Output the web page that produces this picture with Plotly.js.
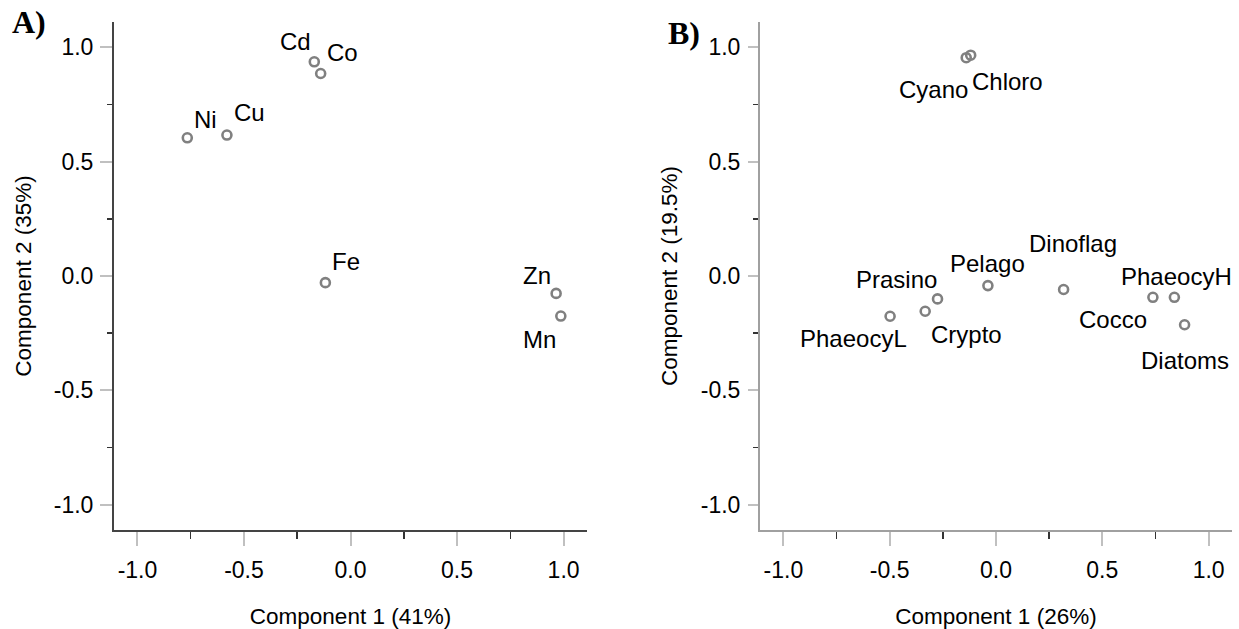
<!DOCTYPE html>
<html>
<head>
<meta charset="utf-8">
<script src="https://cdn.plot.ly/plotly-3.0.1.min.js"></script>
<style>html,body{margin:0;padding:0;background:#fff;}#chart{width:1239px;height:629px;}</style>
</head>
<body>
<div id="chart"></div>
<script>
// ---- data ----
const metalNames = ['Ni', 'Cu', 'Cd', 'Co', 'Fe', 'Zn', 'Mn'];
const metalComp1 = [-0.766, -0.580, -0.170, -0.140, -0.118, 0.965, 0.987];
const metalComp2 = [0.604, 0.616, 0.936, 0.885, -0.029, -0.076, -0.175];

const phytoNames = ['Cyano', 'Chloro', 'Prasino', 'PhaeocyL', 'Crypto', 'Pelago', 'Dinoflag', 'Cocco', 'PhaeocyH', 'Diatoms'];
const phytoComp1 = [-0.140, -0.119, -0.275, -0.498, -0.333, -0.038, 0.318, 0.738, 0.839, 0.887];
const phytoComp2 = [0.954, 0.965, -0.100, -0.176, -0.154, -0.042, -0.059, -0.093, -0.093, -0.213];

const tickValues = [-1.0, -0.5, 0.0, 0.5, 1.0];
const tickLabels = ['-1.0', '-0.5', '0.0', '0.5', '1.0'];
const minorTickValues = [-0.75, -0.25, 0.25, 0.75];

const titleA = {x: 'Component 1 (41%)', y: 'Component 2 (35%)'};
const titleB = {x: 'Component 1 (26%)', y: 'Component 2 (19.5%)'};

// ---- label placement (pixel offsets: right, down) ----
const metalLabelOffsets = [[18, -18], [23, -23], [-19, -20], [22, -21], [21, -21], [-19, -18], [-21, 23]];
const phytoLabelOffsets = [[-33, 32], [37, 26], [-41, -19], [-37, 22], [41, 23], [0, -22], [9, -46], [-40, 22], [2, -21], [0, 36]];

const FONT = 'Liberation Sans, Arial, sans-serif';
const markerStyle = {symbol: 'circle-open', size: 9, color: '#808080', line: {width: 2.6, color: '#808080'}};

const traces = [
  {type: 'scatter', mode: 'markers', x: metalComp1, y: metalComp2, text: metalNames,
   xaxis: 'x', yaxis: 'y', marker: markerStyle, hoverinfo: 'text', showlegend: false},
  {type: 'scatter', mode: 'markers', x: phytoComp1, y: phytoComp2, text: phytoNames,
   xaxis: 'x2', yaxis: 'y2', marker: markerStyle, hoverinfo: 'text', showlegend: false}
];

function minorTicks(len) {
  return {tickmode: 'array', tickvals: minorTickValues, ticks: 'outside', ticklen: len, tickcolor: '#333', tickwidth: 1.5, showgrid: false};
}

function axis(opts) {
  return Object.assign({
    range: [-1.11, 1.11], autorange: false, showgrid: false, zeroline: false,
    showline: true, mirror: false, linewidth: 2,
    tickmode: 'array', tickvals: tickValues, ticktext: tickLabels,
    ticks: 'outside', tickcolor: '#c0c0c0', tickwidth: 2,
    tickfont: {family: FONT, size: 23, color: '#000'},
    fixedrange: true
  }, opts);
}

const labelFont = {family: FONT, size: 24, color: '#000'};
const annotations = [];
metalNames.forEach((n, i) => annotations.push({
  xref: 'x', yref: 'y', x: metalComp1[i], y: metalComp2[i], text: n, showarrow: false,
  xanchor: 'center', yanchor: 'middle', xshift: metalLabelOffsets[i][0], yshift: -metalLabelOffsets[i][1],
  font: labelFont
}));
phytoNames.forEach((n, i) => annotations.push({
  xref: 'x2', yref: 'y2', x: phytoComp1[i], y: phytoComp2[i], text: n, showarrow: false,
  xanchor: 'center', yanchor: 'middle', xshift: phytoLabelOffsets[i][0], yshift: -phytoLabelOffsets[i][1],
  font: labelFont
}));
const panelFont = {family: 'Liberation Serif, Times New Roman, serif', size: 32, color: '#000'};
annotations.push({xref: 'paper', yref: 'paper', x: -0.093, y: 1.0, xanchor: 'left', yanchor: 'middle',
  text: '<b>A)</b>', showarrow: false, font: panelFont});
annotations.push({xref: 'paper', yref: 'paper', x: 0.4935, y: 0.978, xanchor: 'left', yanchor: 'middle',
  text: '<b>B)</b>', showarrow: false, font: panelFont});

const titleFont = {family: FONT, size: 22.5, color: '#000'};

const layout = {
  width: 1239, height: 629,
  margin: {l: 114, r: 7, t: 22, b: 99, autoexpand: false},
  paper_bgcolor: '#fff', plot_bgcolor: '#fff',
  showlegend: false,
  xaxis: axis({domain: [0, 0.4231], anchor: 'y', linecolor: '#444', ticklen: 14, minor: minorTicks(7),
    ticklabelstandoff: 4, title: {text: titleA.x, font: titleFont, standoff: 27}}),
  yaxis: axis({domain: [0, 1], anchor: 'x', linecolor: '#444', ticklen: 12, minor: minorTicks(5),
    ticklabelstandoff: 2, title: {text: titleA.y, font: titleFont, standoff: 16}}),
  xaxis2: axis({domain: [0.5778, 1], anchor: 'y2', linecolor: '#a0a0a0', ticklen: 14, minor: minorTicks(7),
    ticklabelstandoff: 4, title: {text: titleB.x, font: titleFont, standoff: 27}}),
  yaxis2: axis({domain: [0, 1], anchor: 'x2', linecolor: '#a0a0a0', ticklen: 10, minor: minorTicks(5),
    ticklabelstandoff: 3, title: {text: titleB.y, font: titleFont, standoff: 17}}),
  annotations: annotations
};

Plotly.newPlot('chart', traces, layout, {staticPlot: true, displayModeBar: false});
</script>
</body>
</html>
